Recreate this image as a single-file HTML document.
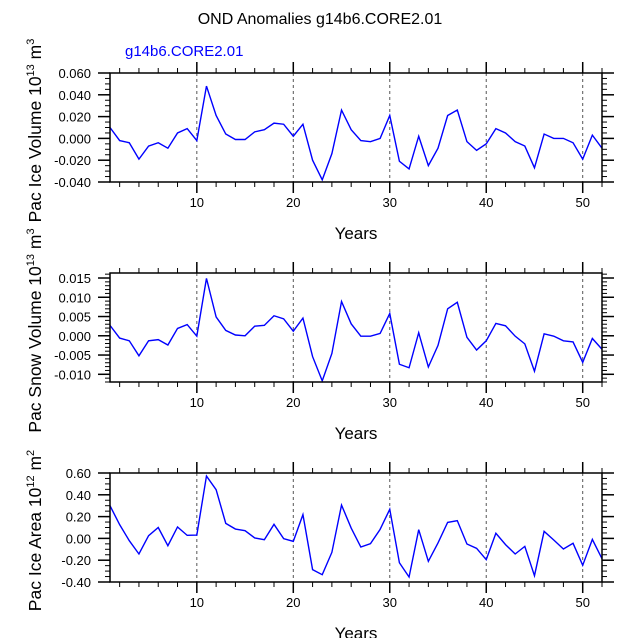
<!DOCTYPE html>
<html><head><meta charset="utf-8"><style>
body{margin:0;background:#fff;}
svg{display:block;font-family:"Liberation Sans",Arial,sans-serif;}
</style></head><body>
<svg id="c" width="638" height="638" viewBox="0 0 638 638" xmlns="http://www.w3.org/2000/svg">
<rect width="638" height="638" fill="#fff"/>
<text x="320" y="24" font-size="16" text-anchor="middle">OND Anomalies g14b6.CORE2.01</text>
<text x="125" y="56" font-size="15" fill="#0000ff">g14b6.CORE2.01</text>
</svg>
<script>
const years = Array.from({length:52},(_,i)=>i+1);
const iceVolume = [0.010,-0.002,-0.004,-0.019,-0.007,-0.004,-0.009,0.005,0.009,-0.002,0.048,0.021,0.004,-0.001,-0.001,0.006,0.008,0.014,0.013,0.002,0.013,-0.020,-0.038,-0.014,0.026,0.008,-0.002,-0.003,0.000,0.021,-0.021,-0.028,0.002,-0.025,-0.009,0.021,0.026,-0.003,-0.011,-0.005,0.009,0.005,-0.003,-0.007,-0.027,0.004,0.000,0.000,-0.004,-0.019,0.003,-0.009];
const snowVolume = [0.0027,-0.0006,-0.0013,-0.0052,-0.0013,-0.0010,-0.0024,0.0019,0.0029,-0.0001,0.0149,0.0049,0.0014,0.0002,0.0000,0.0025,0.0027,0.0052,0.0044,0.0012,0.0046,-0.0054,-0.0117,-0.0046,0.0089,0.0031,-0.0001,-0.0001,0.0006,0.0058,-0.0074,-0.0083,0.0008,-0.0081,-0.0025,0.0070,0.0087,-0.0004,-0.0037,-0.0013,0.0032,0.0026,-0.0001,-0.0021,-0.0092,0.0005,-0.0001,-0.0013,-0.0016,-0.0069,-0.0007,-0.0035];
const iceArea = [0.300,0.126,-0.021,-0.143,0.025,0.100,-0.067,0.105,0.028,0.031,0.572,0.447,0.138,0.086,0.071,0.004,-0.012,0.129,-0.002,-0.027,0.218,-0.287,-0.333,-0.128,0.306,0.095,-0.079,-0.048,0.083,0.267,-0.223,-0.354,0.080,-0.210,-0.042,0.147,0.163,-0.051,-0.091,-0.195,0.047,-0.057,-0.143,-0.073,-0.342,0.065,-0.015,-0.097,-0.045,-0.247,-0.009,-0.186];
const xTicks = [10,20,30,40,50];
const ticks1 = [0.06,0.04,0.02,0.0,-0.02,-0.04];
const labels1 = ["0.060","0.040","0.020","0.000","-0.020","-0.040"];
const ticks2 = [0.015,0.010,0.005,0.0,-0.005,-0.010];
const labels2 = ["0.015","0.010","0.005","0.000","-0.005","-0.010"];
const ticks3 = [0.6,0.4,0.2,0.0,-0.2,-0.4];
const labels3 = ["0.60","0.40","0.20","0.00","-0.20","-0.40"];

const NS="http://www.w3.org/2000/svg";
const svg=document.getElementById('c');
function mk(tag,attrs,parent){const e=document.createElementNS(NS,tag);for(const k in attrs)e.setAttribute(k,attrs[k]);(parent||svg).appendChild(e);return e;}
const X0=110,X1=602;
const xs=v=>X0+(v-1)/(51)*(X1-X0);

function panel(key,top,ymin,ymax,data,ticks,labels,minorStep,ylabel,sup,unit,unitSup){
  const bot=top+109;
  const ys=v=>bot-(v-ymin)/(ymax-ymin)*(bot-top);
  const g=mk('g',{});
  
  
  xTicks.forEach(t=>{const l=mk('line',{x1:xs(t),x2:xs(t),y1:top,y2:bot,stroke:'#555','stroke-width':1,'stroke-dasharray':'3,3'},g);
    
    });
  for(let t=2;t<=52;t+=2){
    const major=t%10===0;const L=major?11:5;const x=xs(t);
    mk('line',{x1:x,x2:x,y1:bot,y2:bot+L,stroke:'#000','stroke-width':major?1.5:1},g);
    mk('line',{x1:x,x2:x,y1:top,y2:top-L,stroke:'#000','stroke-width':major?1.5:1},g);
  }
  xTicks.forEach(t=>{const tx=mk('text',{x:xs(t),y:bot+25,'font-size':13,'text-anchor':'middle'},g);tx.textContent=t;
    
    });
  const n=Math.round((ymax-ymin)/minorStep);
  for(let i=0;i<=n;i++){const v=ymin+i*minorStep;const y=ys(v);if(y<top-0.5||y>bot+0.5)continue;
    mk('line',{x1:X0,x2:X0-5,y1:y,y2:y,stroke:'#000','stroke-width':1},g);
    mk('line',{x1:X1,x2:X1+5,y1:y,y2:y,stroke:'#000','stroke-width':1},g);}
  ticks.forEach((v,i)=>{const y=ys(v);
    mk('line',{x1:X0,x2:X0-12,y1:y,y2:y,stroke:'#000','stroke-width':1.5},g);
    mk('line',{x1:X1,x2:X1+12,y1:y,y2:y,stroke:'#000','stroke-width':1.5},g);
    const tx=mk('text',{x:91,y:y+5,'font-size':13,'text-anchor':'end'},g);tx.textContent=labels[i];
    
    });
  const pts=data.map((v,i)=>xs(years[i]).toFixed(2)+','+ys(v).toFixed(2)).join(' ');
  const pl=mk('polyline',{points:pts,fill:'none',stroke:'#0000ff','stroke-width':1.4},g);
  
  
  const fr=mk('rect',{x:X0,y:top,width:X1-X0,height:bot-top,fill:'none',stroke:'#000','stroke-width':1.5},g);
  
  
  const xl=mk('text',{x:356,y:bot+57,'font-size':17,'text-anchor':'middle'},g);xl.textContent='Years';
  
  
  const cy=(top+bot)/2+3;
  const yl=mk('text',{x:0,y:0,'font-size':17.5,'text-anchor':'middle',transform:'translate(41,'+cy+') rotate(-90)'},g);
  
  
  const a=mk('tspan',{},yl);a.textContent=ylabel+' 10';
  const b=mk('tspan',{dy:-7,'font-size':11},yl);b.textContent=sup;
  const c=mk('tspan',{dy:7},yl);c.textContent=' '+unit;
  const d=mk('tspan',{dy:-7,'font-size':11},yl);d.textContent=unitSup;
}
panel('ice-volume',73,-0.04,0.06,iceVolume,ticks1,labels1,0.005,'Pac Ice Volume','13','m','3');
panel('snow-volume',273,-0.012,0.0163,snowVolume,ticks2,labels2,0.001,'Pac Snow Volume','13','m','3');
panel('ice-area',473,-0.4,0.6,iceArea,ticks3,labels3,0.05,'Pac Ice Area','12','m','2');
</script>
</body></html>
